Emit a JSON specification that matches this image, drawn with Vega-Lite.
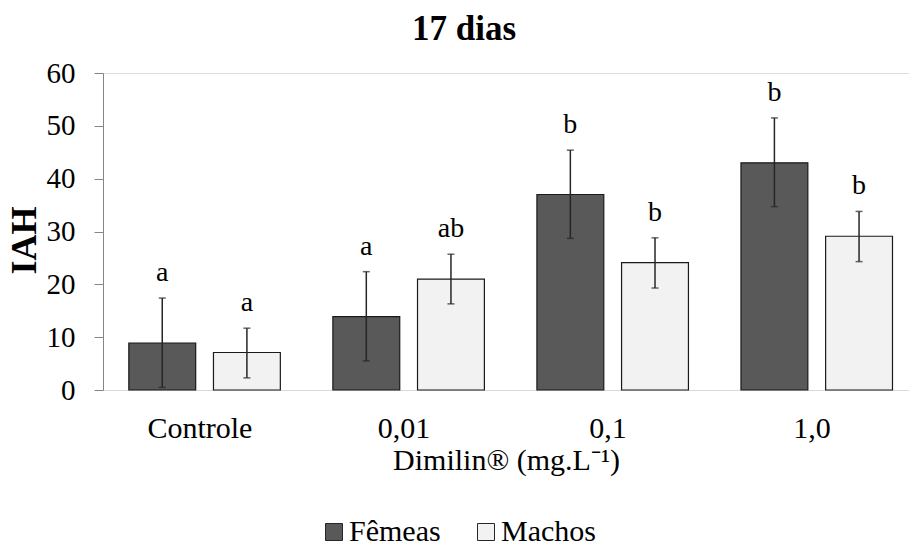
{
  "$schema": "https://vega.github.io/schema/vega-lite/v6.json",
  "autosize": {"type": "none"},
  "padding": {"left": 103, "top": 73, "right": 0, "bottom": 156},
  "width": 806,
  "height": 317,
  "background": "white",
  "title": {
    "text": "17 dias",
    "font": "Liberation Serif",
    "fontSize": 35,
    "fontWeight": "bold",
    "color": "black",
    "anchor": "middle",
    "dx": -42,
    "offset": 12
  },
  "data": {
    "values": [
      {"dose": "Controle", "sexo": "Fêmeas", "media": 8.9, "lo": 0.5, "hi": 17.4, "letra": "a"},
      {"dose": "Controle", "sexo": "Machos", "media": 7.1, "lo": 2.3, "hi": 11.7, "letra": "a"},
      {"dose": "0,01", "sexo": "Fêmeas", "media": 13.9, "lo": 5.5, "hi": 22.4, "letra": "a"},
      {"dose": "0,01", "sexo": "Machos", "media": 21.0, "lo": 16.3, "hi": 25.7, "letra": "ab"},
      {"dose": "0,1", "sexo": "Fêmeas", "media": 37.0, "lo": 28.7, "hi": 45.4, "letra": "b"},
      {"dose": "0,1", "sexo": "Machos", "media": 24.1, "lo": 19.3, "hi": 28.8, "letra": "b"},
      {"dose": "1,0", "sexo": "Fêmeas", "media": 43.0, "lo": 34.7, "hi": 51.5, "letra": "b"},
      {"dose": "1,0", "sexo": "Machos", "media": 29.1, "lo": 24.3, "hi": 33.8, "letra": "b"}
    ]
  },
  "encoding": {
    "x": {
      "field": "dose",
      "type": "nominal",
      "sort": ["Controle", "0,01", "0,1", "1,0"],
      "scale": {"paddingInner": 0.05, "paddingOuter": 0, "round": false},
      "axis": {
        "title": "Dimilin® (mg.L⁻¹)",
        "labelAngle": 0,
        "labelFont": "Liberation Serif",
        "labelFontSize": 30,
        "labelColor": "black",
        "labelPadding": 23,
        "ticks": false,
        "tickSize": 0,
        "domainColor": "#d9d9d9",
        "domainWidth": 1,
        "titleFont": "Liberation Serif",
        "titleFontSize": 30,
        "titleFontWeight": "normal",
        "titleColor": "black",
        "titlePadding": 2
      }
    },
    "xOffset": {
      "field": "sexo",
      "type": "nominal",
      "sort": ["Fêmeas", "Machos"],
      "scale": {"paddingInner": 0.21, "paddingOuter": 0.25, "align": 0.61, "round": false}
    }
  },
  "layer": [
    {
      "mark": {"type": "bar", "stroke": "#1a1a1a", "strokeWidth": 1.2},
      "encoding": {
        "y": {
          "field": "media",
          "type": "quantitative",
          "scale": {"domain": [0, 60], "nice": false},
          "axis": {
            "title": "IAH",
            "values": [0, 10, 20, 30, 40, 50, 60],
            "grid": false,
            "labelFont": "Liberation Serif",
            "labelFontSize": 29,
            "labelColor": "black",
            "labelPadding": 19,
            "tickSize": 9,
            "tickColor": "#868686",
            "domainColor": "#868686",
            "titleFont": "Liberation Serif",
            "titleFontSize": 36,
            "titleFontWeight": "bold",
            "titleColor": "black",
            "titlePadding": 3,
            "titleY": 167
          }
        },
        "fill": {
          "field": "sexo",
          "type": "nominal",
          "sort": ["Fêmeas", "Machos"],
          "scale": {"domain": ["Fêmeas", "Machos"], "range": ["#595959", "#f2f2f2"]},
          "legend": {
            "title": null,
            "orient": "none",
            "direction": "horizontal",
            "legendX": 216,
            "legendY": 444,
            "symbolType": "square",
            "symbolSize": 289,
            "symbolStrokeColor": "#262626",
            "symbolStrokeWidth": 1,
            "symbolOpacity": 1,
            "labelFont": "Liberation Serif",
            "labelFontSize": 30,
            "labelColor": "black",
            "labelOffset": 0,
            "columnPadding": 30
          }
        }
      }
    },
    {
      "mark": {"type": "rule", "color": "#262626", "strokeWidth": 1.5},
      "encoding": {
        "y": {"field": "lo", "type": "quantitative"},
        "y2": {"field": "hi"}
      }
    },
    {
      "mark": {"type": "tick", "orient": "horizontal", "size": 7, "thickness": 1.5, "color": "#262626"},
      "encoding": {"y": {"field": "lo", "type": "quantitative"}}
    },
    {
      "mark": {"type": "tick", "orient": "horizontal", "size": 7, "thickness": 1.5, "color": "#262626"},
      "encoding": {"y": {"field": "hi", "type": "quantitative"}}
    },
    {
      "mark": {"type": "text", "font": "Liberation Serif", "fontSize": 28, "color": "black", "baseline": "alphabetic", "dy": -17},
      "encoding": {
        "y": {"field": "hi", "type": "quantitative"},
        "text": {"field": "letra", "type": "nominal"}
      }
    }
  ]
}
